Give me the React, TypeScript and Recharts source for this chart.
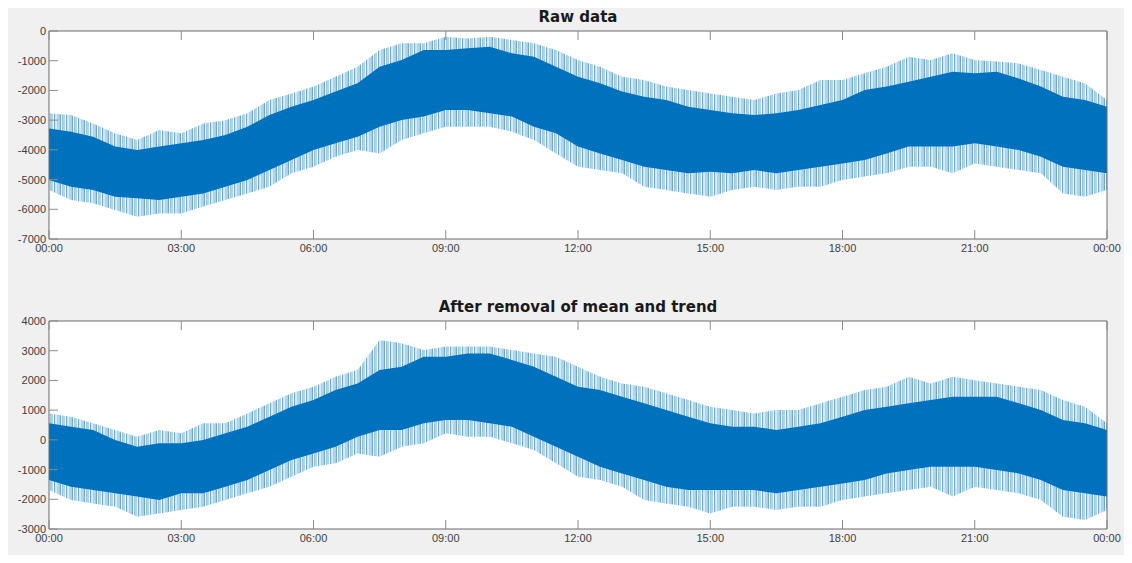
import { AreaChart, Area, XAxis, YAxis } from "recharts";

// time of day in hours, one reading every 30 min
const TIMES = [
  0, 0.5, 1, 1.5, 2, 2.5, 3, 3.5, 4, 4.5, 5, 5.5, 6, 6.5, 7, 7.5, 8, 8.5, 9, 9.5, 10, 10.5, 11, 11.5, 12,
  12.5, 13, 13.5, 14, 14.5, 15, 15.5, 16, 16.5, 17, 17.5, 18, 18.5, 19, 19.5, 20, 20.5, 21, 21.5, 22, 22.5,
  23, 23.5, 24,
];
const X_TICKS = [0, 3, 6, 9, 12, 15, 18, 21, 24];

// raw data: dense band (core) and outer spikes
const RAW_CORE_HI = [
  -3280, -3390, -3560, -3890, -4005, -3890, -3780, -3670, -3500, -3220, -2830, -2550, -2320, -2040, -1760,
  -1200, -976, -640, -640, -580, -530, -750, -865, -1200, -1540, -1760, -2040, -2210, -2320, -2550, -2660,
  -2770, -2830, -2770, -2660, -2490, -2320, -1985, -1870, -1710, -1540, -1370, -1425, -1370, -1600, -1870,
  -2210, -2320, -2550,
];
const RAW_CORE_LO = [
  -5015, -5240, -5350, -5575, -5630, -5690, -5575, -5465, -5240, -5015, -4680, -4340, -4005, -3780, -3560,
  -3220, -2995, -2880, -2660, -2660, -2770, -2880, -3220, -3445, -3890, -4120, -4340, -4570, -4680, -4790,
  -4735, -4790, -4680, -4790, -4680, -4570, -4455, -4340, -4120, -3890, -3890, -3890, -3780, -3890, -4005,
  -4230, -4570, -4680, -4790,
];
const RAW_SPIKE_HI = [
  -2770, -2830, -3110, -3445, -3670, -3330, -3445, -3110, -3000, -2770, -2320, -2100, -1870, -1540, -1200,
  -640, -415, -415, -190, -250, -190, -300, -415, -640, -976, -1200, -1540, -1650, -1870, -1985, -2100,
  -2210, -2320, -2100, -1985, -1650, -1650, -1425, -1200, -865, -976, -750, -976, -1030, -1090, -1310,
  -1540, -1760, -2320,
];
const RAW_SPIKE_LO = [
  -5350, -5690, -5800, -6025, -6250, -6140, -6140, -5910, -5690, -5465, -5240, -4790, -4570, -4230, -4005,
  -4120, -3670, -3445, -3220, -3220, -3220, -3390, -3670, -4120, -4570, -4680, -4790, -5240, -5350, -5465,
  -5575, -5350, -5240, -5350, -5240, -5240, -5015, -4900, -4790, -4570, -4570, -4790, -4455, -4570, -4680,
  -4790, -5465, -5575, -5350,
];

// after removal of mean and trend
const DET_CORE_HI = [
  555, 443, 330, -5, -230, -118, -118, -5, 220, 443, 780, 1115, 1340, 1675, 1900, 2350, 2460, 2800, 2800,
  2910, 2910, 2690, 2460, 2125, 1790, 1675, 1450, 1230, 1005, 780, 555, 443, 443, 330, 443, 555, 780, 1005,
  1115, 1230, 1340, 1450, 1450, 1450, 1230, 1005, 667, 555, 330,
];
const DET_CORE_LO = [
  -1350, -1575, -1690, -1800, -1910, -2025, -1800, -1800, -1575, -1350, -1015, -680, -455, -230, 107, 330,
  330, 555, 670, 670, 555, 443, 107, -230, -565, -905, -1130, -1350, -1575, -1690, -1690, -1690, -1690,
  -1800, -1690, -1575, -1465, -1350, -1130, -1015, -905, -905, -905, -1015, -1130, -1350, -1690, -1800,
  -1910,
];
const DET_SPIKE_HI = [
  890, 780, 555, 330, 107, 330, 220, 555, 555, 890, 1230, 1565, 1790, 2125, 2350, 3360, 3250, 3025, 3140,
  3140, 3140, 3025, 2910, 2800, 2460, 2125, 1900, 1790, 1565, 1340, 1115, 1005, 890, 1005, 1005, 1230, 1450,
  1675, 1790, 2125, 1900, 2125, 2010, 1900, 1790, 1675, 1340, 1115, 555,
];
const DET_SPIKE_LO = [
  -1690, -2025, -2140, -2250, -2590, -2475, -2360, -2250, -2025, -1800, -1575, -1240, -905, -790, -455, -565,
  -230, -118, 220, 107, 107, -118, -340, -790, -1240, -1350, -1575, -2025, -2140, -2250, -2475, -2250,
  -2250, -2360, -2250, -2250, -2025, -1910, -1800, -1690, -1575, -1910, -1575, -1690, -1800, -2025, -2590,
  -2700, -2360,
];

const RAW_Y_TICKS = [-7000, -6000, -5000, -4000, -3000, -2000, -1000, 0];
const DET_Y_TICKS = [-3000, -2000, -1000, 0, 1000, 2000, 3000, 4000];

const BLUE = "#0072BD";
const BOX = "#6b6b6b";
const TICK = "#8a8a8a";
const FONT = "'Liberation Sans', Arial, sans-serif";

const fmtTime = (h: number) => `${String(h % 24).padStart(2, "0")}:00`;

const BottomTick = (props: any) => {
  const { x, y, payload } = props;
  return (
    <g>
      <line x1={x} x2={x} y1={y} y2={y - 9} stroke={TICK} />
      <text x={x} y={y + 13} textAnchor="middle" fontSize={11} fontFamily={FONT} fill="#404040">
        {fmtTime(payload.value)}
      </text>
    </g>
  );
};

const TopTick = (props: any) => {
  const { x, y } = props;
  return <line x1={x} x2={x} y1={y} y2={y + 9} stroke={TICK} />;
};

const LeftTick = (props: any) => {
  const { x, y, payload } = props;
  return (
    <g>
      <line x1={x} x2={x + 9} y1={y} y2={y} stroke={TICK} />
      <text x={x - 3} y={y + 4} textAnchor="end" fontSize={11} fontFamily={FONT} fill="#404040">
        {payload.value}
      </text>
    </g>
  );
};

const RightTick = (props: any) => {
  const { x, y } = props;
  return <line x1={x} x2={x - 9} y1={y} y2={y} stroke={TICK} />;
};

interface PanelProps {
  id: string;
  title: string;
  top: number;
  coreHi: number[];
  coreLo: number[];
  spikeHi: number[];
  spikeLo: number[];
  yTicks: number[];
}

function Panel({ id, title, top, coreHi, coreLo, spikeHi, spikeLo, yTicks }: PanelProps) {
  const rows = TIMES.map((t, i) => ({
    t,
    spike: [spikeLo[i], spikeHi[i]],
    core: [coreLo[i], coreHi[i]],
  }));
  const domain = [yTicks[0], yTicks[yTicks.length - 1]];

  return (
    <div style={{ position: "absolute", left: 0, top, width: 1132, height: 280 }}>
      <div
        style={{
          position: "absolute",
          left: 49,
          width: 1058,
          top: 8,
          textAlign: "center",
          fontFamily: "'DejaVu Sans', sans-serif",
          fontWeight: "bold",
          fontSize: 15,
          color: "#1a1a1a",
        }}
      >
        {title}
      </div>
      <div style={{ position: "absolute", left: 49, top: 31, width: 1058, height: 208, background: "#fff" }} />
      <div style={{ position: "absolute", left: 0, top: 0 }}>
        <AreaChart width={1132} height={280} data={rows} margin={{ top: 30, left: 4, right: 24, bottom: 21 }}>
          <defs>
            {/* thin vertical strokes to mimic the noise spikes around the dense band */}
            <pattern id={`spikes-${id}`} width="12" height="6" patternUnits="userSpaceOnUse">
              <rect x="0" y="0" width="1" height="6" fill={BLUE} />
              <rect x="2" y="0" width="1" height="6" fill="#5b9bc8" />
              <rect x="3.5" y="0" width="1" height="6" fill={BLUE} />
              <rect x="6" y="0" width="1" height="6" fill={BLUE} />
              <rect x="7.5" y="0" width="1" height="6" fill="#7fb0cf" />
              <rect x="9.5" y="0" width="1" height="6" fill={BLUE} />
              <rect x="11" y="0" width="0.8" height="6" fill="#5b9bc8" />
            </pattern>
          </defs>
          <XAxis
            dataKey="t"
            type="number"
            domain={[0, 24]}
            ticks={X_TICKS}
            interval={0}
            height={20}
            tickSize={0}
            tickMargin={0}
            tickLine={false}
            tick={<BottomTick />}
            axisLine={{ stroke: BOX }}
          />
          <XAxis
            xAxisId="top"
            orientation="top"
            dataKey="t"
            type="number"
            domain={[0, 24]}
            ticks={X_TICKS}
            interval={0}
            height={1}
            tickSize={0}
            tickMargin={0}
            tickLine={false}
            tick={<TopTick />}
            axisLine={{ stroke: BOX }}
          />
          <YAxis
            type="number"
            domain={domain}
            ticks={yTicks}
            interval={0}
            width={45}
            tickSize={0}
            tickMargin={0}
            tickLine={false}
            tick={<LeftTick />}
            axisLine={{ stroke: BOX }}
            allowDataOverflow
          />
          <YAxis
            yAxisId="right"
            orientation="right"
            type="number"
            domain={domain}
            ticks={yTicks}
            interval={0}
            width={1}
            tickSize={0}
            tickMargin={0}
            tickLine={false}
            tick={<RightTick />}
            axisLine={{ stroke: BOX }}
          />
          <Area
            type="linear"
            dataKey="spike"
            stroke="none"
            fill={`url(#spikes-${id})`}
            isAnimationActive={false}
          />
          <Area
            type="linear"
            dataKey="core"
            stroke="none"
            fill={BLUE}
            fillOpacity={1}
            isAnimationActive={false}
          />
        </AreaChart>
      </div>
    </div>
  );
}

export default function App() {
  return (
    <div style={{ position: "relative", margin: -8, width: 1132, height: 563, background: "#fff" }}>
      <div style={{ position: "absolute", left: 5, top: 3, width: 1122, height: 555, background: "#f0f0f0" }} />
      <Panel
        id="raw"
        title="Raw data"
        top={0}
        coreHi={RAW_CORE_HI}
        coreLo={RAW_CORE_LO}
        spikeHi={RAW_SPIKE_HI}
        spikeLo={RAW_SPIKE_LO}
        yTicks={RAW_Y_TICKS}
      />
      <Panel
        id="det"
        title="After removal of mean and trend"
        top={290}
        coreHi={DET_CORE_HI}
        coreLo={DET_CORE_LO}
        spikeHi={DET_SPIKE_HI}
        spikeLo={DET_SPIKE_LO}
        yTicks={DET_Y_TICKS}
      />
    </div>
  );
}
